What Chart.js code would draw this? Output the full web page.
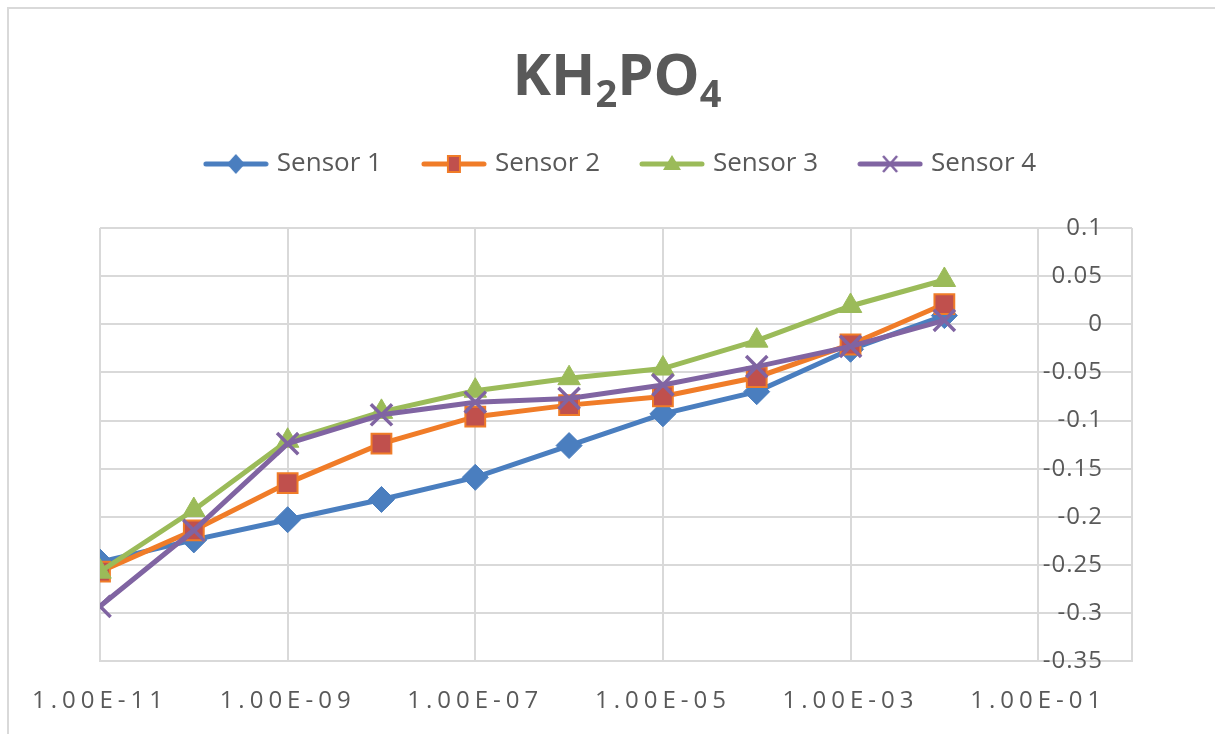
<!DOCTYPE html>
<html>
<head>
<meta charset="utf-8">
<script src="https://cdn.jsdelivr.net/npm/chart.js@4.4.1/dist/chart.umd.min.js"></script>
<style>
  html, body { margin: 0; padding: 0; background: #fff; }
  #frame { position: absolute; left: 7px; top: 7px; width: 1300px; height: 800px;
           border-top: 2px solid #d9d9d9; border-left: 2px solid #d9d9d9; }
  #kh { position: absolute; left: 0; top: 0; }
</style>
</head>
<body>
<div id="frame"></div>
<canvas id="kh" width="1215" height="734"></canvas>
<script>
// concentrations (M) and sensor readings
var concentrations = [1e-11, 1e-10, 1e-9, 1e-8, 1e-7, 1e-6, 1e-5, 1e-4, 1e-3, 1e-2];
var sensor1 = [-0.247, -0.224, -0.203, -0.182, -0.159, -0.126, -0.093, -0.070, -0.026, 0.009];
var sensor2 = [-0.257, -0.214, -0.165, -0.124, -0.096, -0.084, -0.075, -0.055, -0.021, 0.021];
var sensor3 = [-0.257, -0.193, -0.121, -0.091, -0.069, -0.056, -0.046, -0.017, 0.019, 0.046];
var sensor4 = [-0.293, -0.214, -0.124, -0.094, -0.081, -0.077, -0.063, -0.044, -0.023, 0.004];
var seriesNames = ['Sensor 1', 'Sensor 2', 'Sensor 3', 'Sensor 4'];

// last tick (1e0) only closes the plot frame, it has no label
var xTickValues = [1e-11, 1e-9, 1e-7, 1e-5, 1e-3, 1e-1, 1];
var xTickLabels = ['1.00E-11', '1.00E-09', '1.00E-07', '1.00E-05', '1.00E-03', '1.00E-01', ''];

var blue = '#4a7ebf', orange = '#f07c28', red = '#c0504d', green = '#9bbb59', purple = '#8064a2';
var grey = '#d9d9d9', txt = '#595959';

Chart.defaults.font.family = "'Open Sans', sans-serif";
Chart.defaults.color = txt;

function pts(ys) {
    return ys.map(function (y, i) { return { x: concentrations[i], y: y }; });
}

// little line + marker picture for the legend
function legendPic(line, fill, shape) {
    var c = document.createElement('canvas');
    c.width = 66; c.height = 26;
    var g = c.getContext('2d');
    g.strokeStyle = line; g.lineWidth = 5; g.lineCap = 'round';
    g.beginPath(); g.moveTo(3, 13); g.lineTo(63, 13); g.stroke();
    g.fillStyle = fill;
    g.beginPath();
    if (shape == 'diamond') {
        g.moveTo(33, 3); g.lineTo(42, 13); g.lineTo(33, 23); g.lineTo(24, 13); g.closePath(); g.fill();
    } else if (shape == 'square') {
        g.rect(27, 5, 12, 16); g.fill(); g.strokeStyle = line; g.lineWidth = 2; g.stroke();
    } else if (shape == 'triangle') {
        g.moveTo(33, 4); g.lineTo(42, 19); g.lineTo(24, 19); g.closePath(); g.fill();
    } else {
        g.lineWidth = 2.5; g.lineCap = 'butt';
        g.moveTo(26, 5); g.lineTo(40, 21); g.moveTo(40, 5); g.lineTo(26, 21); g.stroke();
    }
    return c;
}
var legendPics = [
    legendPic(blue, blue, 'diamond'),
    legendPic(orange, red, 'square'),
    legendPic(green, green, 'triangle'),
    legendPic(purple, purple, 'cross')
];

/*title with real subscripts*/
var titlePlugin = {
    id: 'khTitle',
    afterDraw: function (chart) {
        var ctx = chart.ctx;
        var parts = [['KH', 0], ['2', 1], ['PO', 0], ['4', 1]];
        var big = "bold 58px 'Open Sans', sans-serif", small = "bold 38px 'Open Sans', sans-serif";
        ctx.save();
        ctx.fillStyle = txt;
        ctx.textBaseline = 'alphabetic';
        var w = 0;
        parts.forEach(function (p) { ctx.font = p[1] ? small : big; w += ctx.measureText(p[0]).width; });
        var x = 617 - w / 2;
        parts.forEach(function (p) {
            ctx.font = p[1] ? small : big;
            ctx.fillText(p[0], x, p[1] ? 107 : 95);
            x += ctx.measureText(p[0]).width;
        });
        ctx.restore();
    }
};

// empty layout boxes: gap under the legend, and a strip on the right
function spacer(pos, size) {
    return {
        position: pos, weight: 0, fullSize: false, options: {},
        update: function (w, h) {
            if (pos == 'top') { this.width = w; this.height = size; }
            else { this.width = size; this.height = h; }
        },
        isHorizontal: function () { return pos == 'top'; },
        draw: function () {}
    };
}
var gapPlugin = {
    id: 'gaps',
    beforeInit: function (chart) {
        Chart.layouts.addBox(chart, spacer('top', 41));
        Chart.layouts.addBox(chart, spacer('right', 12));
    }
};

// spaced out tick labels like the original
function spaceLabels(scale, px) {
    if (!scale || scale._spaced) return;
    var orig = scale.drawLabels;
    scale.drawLabels = function (area) {
        this.ctx.save();
        this.ctx.letterSpacing = px;
        orig.call(this, area);
        this.ctx.restore();
    };
    scale._spaced = true;
}
var spacingPlugin = {
    id: 'tickSpacing',
    beforeDraw: function (chart) {
        spaceLabels(chart.scales.x, '5px');
        spaceLabels(chart.scales.y, '1px');
    }
};

var ctx = document.getElementById('kh');
var chart = new Chart(ctx, {
    type: 'line',
    data: {
        datasets: [{
            label: seriesNames[0],
            data: pts(sensor1),
            borderColor: blue,
            backgroundColor: blue,
            pointStyle: 'rectRot',
            pointRadius: 13,
            pointBorderWidth: 1,
            order: 3
        }, {
            label: seriesNames[1],
            data: pts(sensor2),
            borderColor: orange,
            backgroundColor: red,
            pointBorderColor: orange,
            pointStyle: 'rect',
            pointRadius: 14,
            pointBorderWidth: 2,
            order: 2
        }, {
            label: seriesNames[2],
            data: pts(sensor3),
            borderColor: green,
            backgroundColor: green,
            pointStyle: 'triangle',
            pointRadius: 13,
            pointBorderWidth: 1,
            order: 1
        }, {
            label: seriesNames[3],
            data: pts(sensor4),
            borderColor: purple,
            backgroundColor: purple,
            pointStyle: 'crossRot',
            pointRadius: 15,
            pointBorderWidth: 3.5,
            order: 0
        }]
    },
    options: {
        responsive: false,
        animation: false,
        elements: {
            line: { borderWidth: 5, tension: 0, fill: false }
        },
        layout: {
            padding: { left: 100, right: 71, top: 107, bottom: -8 }
        },
        plugins: {
            title: { display: false },
            tooltip: { enabled: false },
            legend: {
                position: 'top',
                labels: {
                    usePointStyle: true,
                    pointStyleWidth: 56,
                    padding: 44,
                    color: txt,
                    font: { size: 26 },
                    generateLabels: function (chart) {
                        var items = Chart.defaults.plugins.legend.labels.generateLabels(chart);
                        items.sort(function (a, b) { return a.datasetIndex - b.datasetIndex; });
                        items.forEach(function (it) { it.pointStyle = legendPics[it.datasetIndex]; });
                        return items;
                    }
                }
            }
        },
        scales: {
            x: {
                type: 'logarithmic',
                min: 1e-11,
                max: 1,
                afterBuildTicks: function (scale) {
                    scale.ticks = xTickValues.map(function (v) { return { value: v }; });
                },
                grid: { color: grey, lineWidth: 2, drawTicks: false },
                border: { color: grey, width: 2 },
                ticks: {
                    autoSkip: false,
                    maxRotation: 0,
                    padding: 26,
                    font: { size: 24 },
                    callback: function (v, i) { return xTickLabels[i]; }
                }
            },
            y: {
                // labels sit just inside the right edge of the plot
                position: { x: 0.49 },
                min: -0.35,
                max: 0.1,
                grid: { color: grey, lineWidth: 2, drawTicks: false },
                border: { display: false },
                ticks: {
                    stepSize: 0.05,
                    padding: 0,
                    font: { size: 24 },
                    callback: function (v) { return String(Number(v.toFixed(2))); }
                }
            }
        }
    },
    plugins: [titlePlugin, gapPlugin, spacingPlugin]
});
</script>
</body>
</html>
